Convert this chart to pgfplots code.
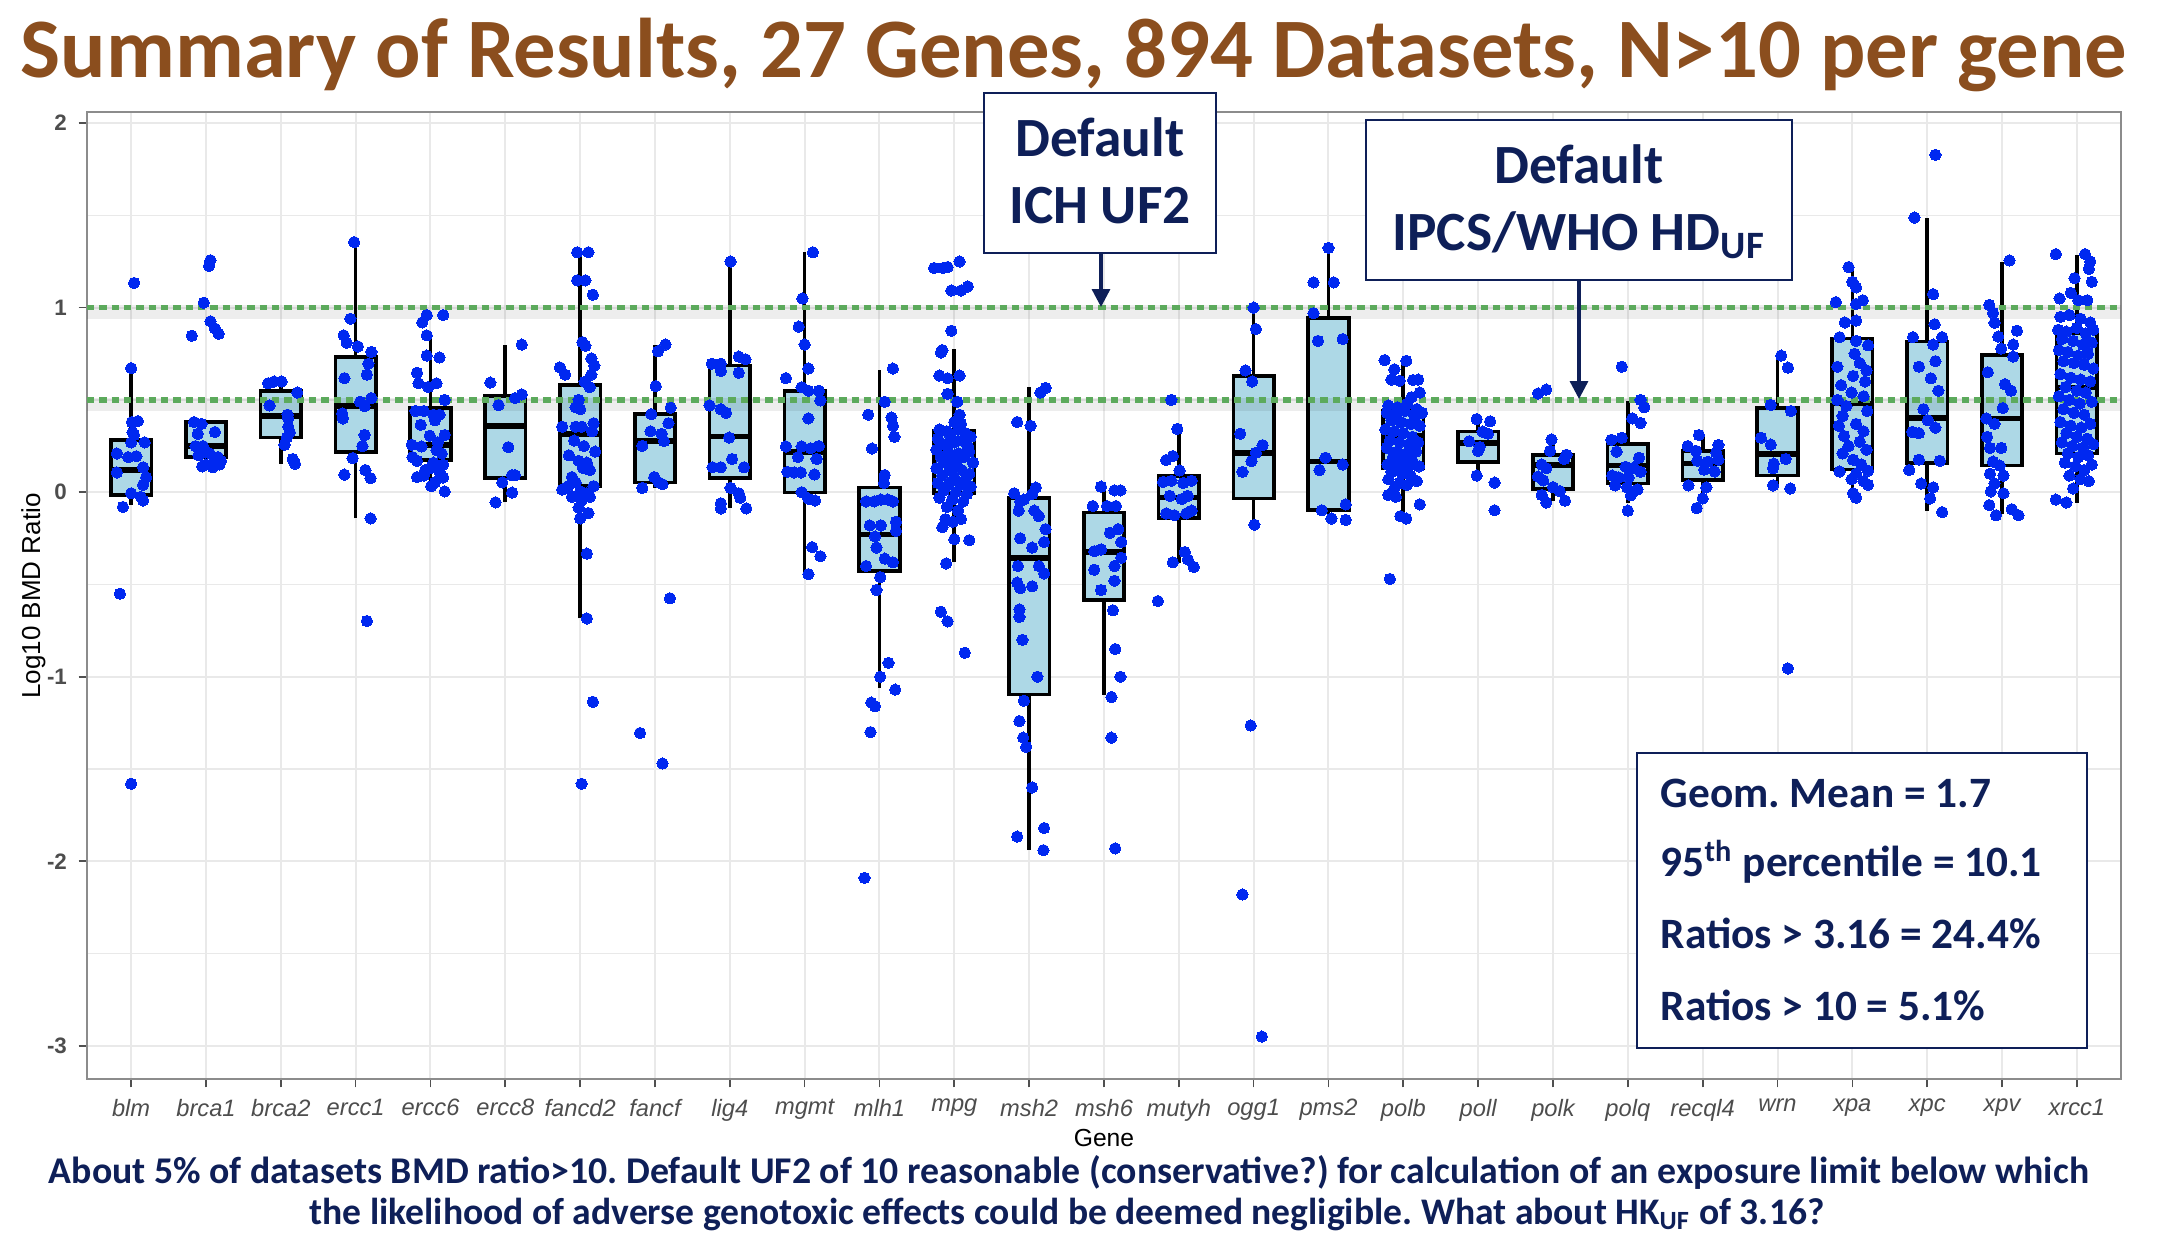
\documentclass[border=0pt]{standalone}
\usepackage{pgfplots}
\pgfplotsset{compat=1.18}
\usetikzlibrary{arrows.meta}
\usepackage{fontspec}
\setmainfont{Liberation Sans}
\newfontfamily\calibri{Carlito}
\frenchspacing
\definecolor{titlebrown}{RGB}{139,78,30}
\definecolor{navy}{RGB}{14,31,88}
\definecolor{boxblue}{RGB}{173,216,230}
\definecolor{ptblue}{RGB}{0,40,240}
\definecolor{dotgreen}{RGB}{92,170,92}
\definecolor{gridc}{RGB}{233,233,233}
\definecolor{labgray}{RGB}{77,77,77}
\definecolor{framegray}{RGB}{140,140,140}
\definecolor{tickgray}{RGB}{80,80,80}
\pgfplotsset{
  gbox/.style={draw=black, fill=boxblue, line width=1.1pt, solid, mark=none, line join=miter},
  gpts/.style={only marks, mark=*, mark size=1.7pt, color=ptblue,
    mark options={draw=ptblue, fill=ptblue, line width=0pt}},
}
\begin{document}
\begin{tikzpicture}
\begin{scope}[x=0.3pt,y=-0.3pt]
\path[use as bounding box] (0,0) rectangle (2184,1238);
\coordinate (LL) at (87,1079);
\node[anchor=base, text=titlebrown, inner sep=0pt] at (1074,77) {\resizebox{631.8pt}{!}{\calibri\bfseries Summary of Results, 27 Genes, 894 Datasets, N>10 per gene}};
\node[anchor=base, text=navy, inner sep=0pt] at (1069,1183) {\resizebox{612pt}{!}{\calibri\bfseries About 5\% of datasets BMD ratio>10. Default UF2 of 10 reasonable (conservative?) for calculation of an exposure limit below which}};
\node[anchor=base, text=navy, inner sep=0pt] at (1067,1224) {\resizebox{454.5pt}{!}{\calibri\bfseries the likelihood of adverse genotoxic effects could be deemed negligible. What about HK\textsubscript{UF} of 3.16?}};
\node[rotate=90, inner sep=0pt, font=\fontsize{7.8}{9}\selectfont] at (33.5,596) {Log10 BMD Ratio};
\node[inner sep=0pt, font=\fontsize{7.4}{9}\selectfont] at (1104,1138) {Gene};
\end{scope}
\begin{axis}[
  at={(LL)}, anchor=south west, scale only axis,
  width=610.2pt, height=290.1pt,
  xmin=0.41, xmax=27.59, ymin=-3.18, ymax=2.06,
  xtick={1,...,27},
  xticklabels={blm,brca1,brca2,ercc1,ercc6,ercc8,fancd2,fancf,lig4,mgmt,mlh1,mpg,msh2,msh6,mutyh,ogg1,pms2,polb,poll,polk,polq,recql4,wrn,xpa,xpc,xpv,xrcc1},
  ytick={-3,-2,-1,0,1,2},
  yticklabels={-3,-2,-1,0,1,2},
  minor ytick={-2.5,-1.5,-0.5,0.5,1.5},
  grid=both,
  major grid style={line width=0.6pt, draw=gridc},
  minor grid style={line width=0.4pt, draw=gridc},
  tick align=outside, tick pos=left,
  major tick length=2.5pt, minor tick length=0pt,
  tick style={draw=tickgray, line width=0.5pt},
  axis line style={draw=framegray, line width=0.6pt},
  /pgf/number format/assume math mode=true,
  xticklabel style={font=\fontsize{7.1}{8}\selectfont\itshape, text=labgray},
  yticklabel style={font=\fontsize{6.7}{8}\selectfont\bfseries, text=labgray},
  axis background/.style={fill=white},
  unbounded coords=jump,
]
% ---- whiskers: lower whisker to upper whisker for each gene ----
\addplot[black, line width=1.1pt, mark=none] coordinates {
(1,-0.068)(1,0.657)(1,nan)
(2,0.135)(2,0.385)(2,nan)
(3,0.154)(3,0.60)(3,nan)
(4,-0.142)(4,1.355)(4,nan)
(5,0.004)(5,0.84)(5,nan)
(6,-0.055)(6,0.80)(6,nan)
(7,-0.684)(7,1.30)(7,nan)
(8,0.023)(8,0.80)(8,nan)
(9,-0.088)(9,1.25)(9,nan)
(10,-0.444)(10,1.30)(10,nan)
(11,-1.06)(11,0.664)(11,nan)
(12,-0.38)(12,0.775)(12,nan)
(13,-1.94)(13,0.57)(13,nan)
(14,-1.10)(14,0.025)(14,nan)
(15,-0.386)(15,0.343)(15,nan)
(16,-0.176)(16,1.0)(16,nan)
(17,-0.15)(17,1.324)(17,nan)
(18,-0.13)(18,0.712)(18,nan)
(19,0.09)(19,0.396)(19,nan)
(20,-0.046)(20,0.29)(20,nan)
(21,-0.06)(21,0.495)(21,nan)
(22,-0.04)(22,0.305)(22,nan)
(23,0.047)(23,0.74)(23,nan)
(24,-0.03)(24,1.22)(24,nan)
(25,-0.103)(25,1.488)(25,nan)
(26,-0.12)(26,1.25)(26,nan)
(27,-0.056)(27,1.284)};
% ---- boxes: lower quartile to upper quartile ----
\addplot[gbox] coordinates {(0.73,-0.016)(1.27,-0.016)(1.27,0.283)(0.73,0.283)} --cycle;
\addplot[gbox] coordinates {(1.73,0.19)(2.27,0.19)(2.27,0.38)(1.73,0.38)} --cycle;
\addplot[gbox] coordinates {(2.73,0.296)(3.27,0.296)(3.27,0.55)(2.73,0.55)} --cycle;
\addplot[gbox] coordinates {(3.73,0.218)(4.27,0.218)(4.27,0.731)(3.73,0.731)} --cycle;
\addplot[gbox] coordinates {(4.73,0.173)(5.27,0.173)(5.27,0.458)(4.73,0.458)} --cycle;
\addplot[gbox] coordinates {(5.73,0.078)(6.27,0.078)(6.27,0.52)(5.73,0.52)} --cycle;
\addplot[gbox] coordinates {(6.73,0.033)(7.27,0.033)(7.27,0.58)(6.73,0.58)} --cycle;
\addplot[gbox] coordinates {(7.73,0.053)(8.27,0.053)(8.27,0.423)(7.73,0.423)} --cycle;
\addplot[gbox] coordinates {(8.73,0.076)(9.27,0.076)(9.27,0.686)(8.73,0.686)} --cycle;
\addplot[gbox] coordinates {(9.73,-0.002)(10.27,-0.002)(10.27,0.55)(9.73,0.55)} --cycle;
\addplot[gbox] coordinates {(10.73,-0.427)(11.27,-0.427)(11.27,0.025)(10.73,0.025)} --cycle;
\addplot[gbox] coordinates {(11.73,-0.005)(12.27,-0.005)(12.27,0.33)(11.73,0.33)} --cycle;
\addplot[gbox] coordinates {(12.73,-1.096)(13.27,-1.096)(13.27,-0.03)(12.73,-0.03)} --cycle;
\addplot[gbox] coordinates {(13.73,-0.583)(14.27,-0.583)(14.27,-0.11)(13.73,-0.11)} --cycle;
\addplot[gbox] coordinates {(14.73,-0.14)(15.27,-0.14)(15.27,0.087)(14.73,0.087)} --cycle;
\addplot[gbox] coordinates {(15.73,-0.035)(16.27,-0.035)(16.27,0.63)(15.73,0.63)} --cycle;
\addplot[gbox] coordinates {(16.73,-0.098)(17.27,-0.098)(17.27,0.944)(16.73,0.944)} --cycle;
\addplot[gbox] coordinates {(17.73,0.13)(18.27,0.13)(18.27,0.442)(17.73,0.442)} --cycle;
\addplot[gbox] coordinates {(18.73,0.162)(19.27,0.162)(19.27,0.328)(18.73,0.328)} --cycle;
\addplot[gbox] coordinates {(19.73,0.017)(20.27,0.017)(20.27,0.203)(19.73,0.203)} --cycle;
\addplot[gbox] coordinates {(20.73,0.047)(21.27,0.047)(21.27,0.26)(20.73,0.26)} --cycle;
\addplot[gbox] coordinates {(21.73,0.065)(22.27,0.065)(22.27,0.224)(21.73,0.224)} --cycle;
\addplot[gbox] coordinates {(22.73,0.09)(23.27,0.09)(23.27,0.455)(22.73,0.455)} --cycle;
\addplot[gbox] coordinates {(23.73,0.123)(24.27,0.123)(24.27,0.832)(23.73,0.832)} --cycle;
\addplot[gbox] coordinates {(24.73,0.159)(25.27,0.159)(25.27,0.817)(24.73,0.817)} --cycle;
\addplot[gbox] coordinates {(25.73,0.144)(26.27,0.144)(26.27,0.742)(25.73,0.742)} --cycle;
\addplot[gbox] coordinates {(26.73,0.209)(27.27,0.209)(27.27,0.864)(26.73,0.864)} --cycle;
% ---- medians ----
\addplot[black, line width=1.7pt, mark=none] coordinates {
(0.73,0.121)(1.27,0.121)(1,nan)
(1.73,0.25)(2.27,0.25)(2,nan)
(2.73,0.413)(3.27,0.413)(3,nan)
(3.73,0.468)(4.27,0.468)(4,nan)
(4.73,0.257)(5.27,0.257)(5,nan)
(5.73,0.359)(6.27,0.359)(6,nan)
(6.73,0.316)(7.27,0.316)(7,nan)
(7.73,0.277)(8.27,0.277)(8,nan)
(8.73,0.302)(9.27,0.302)(9,nan)
(9.73,0.218)(10.27,0.218)(10,nan)
(10.73,-0.23)(11.27,-0.23)(11,nan)
(11.73,0.213)(12.27,0.213)(12,nan)
(12.73,-0.355)(13.27,-0.355)(13,nan)
(13.73,-0.324)(14.27,-0.324)(14,nan)
(14.73,-0.028)(15.27,-0.028)(15,nan)
(15.73,0.214)(16.27,0.214)(16,nan)
(16.73,0.166)(17.27,0.166)(17,nan)
(17.73,0.307)(18.27,0.307)(18,nan)
(18.73,0.266)(19.27,0.266)(19,nan)
(19.73,0.147)(20.27,0.147)(20,nan)
(20.73,0.144)(21.27,0.144)(21,nan)
(21.73,0.155)(22.27,0.155)(22,nan)
(22.73,0.208)(23.27,0.208)(23,nan)
(23.73,0.48)(24.27,0.48)(24,nan)
(24.73,0.402)(25.27,0.402)(25,nan)
(25.73,0.40)(26.27,0.40)(26,nan)
(26.73,0.568)(27.27,0.568)};
% ---- points ----
% blm
\addplot[gpts] coordinates {(1.04,1.134)(1.00,0.672)(1.01,0.38)(1.09,0.385)(1.02,0.325)(1.04,0.31)(1.00,0.27)(1.18,0.27)(0.81,0.21)(0.96,0.19)(1.07,0.195)(1.16,0.135)(0.81,0.107)(1.20,0.08)(1.16,0.04)(1.00,-0.006)(1.13,-0.025)(1.16,-0.045)(0.89,-0.08)(0.85,-0.55)(1.00,-1.58)};
% brca1
\addplot[gpts] coordinates {(2.06,1.257)(2.04,1.226)(1.97,1.027)(1.81,0.848)(2.06,0.926)(2.12,0.887)(2.17,0.858)(1.84,0.38)(1.94,0.37)(1.89,0.316)(2.12,0.326)(1.86,0.25)(1.96,0.25)(1.98,0.22)(2.05,0.21)(2.16,0.19)(2.20,0.17)(2.00,0.15)(2.09,0.135)(2.18,0.15)(1.95,0.14)(2.10,0.16)(1.90,0.20)};
% brca2
\addplot[gpts] coordinates {(2.83,0.59)(2.91,0.60)(3.01,0.60)(3.22,0.54)(2.85,0.47)(3.09,0.42)(3.10,0.40)(3.10,0.355)(3.12,0.325)(3.08,0.296)(3.05,0.257)(3.16,0.18)(3.19,0.154)};
% ercc1
\addplot[gpts] coordinates {(3.98,1.355)(3.93,0.94)(3.84,0.85)(3.88,0.81)(4.03,0.79)(4.21,0.76)(4.17,0.696)(4.15,0.637)(3.85,0.618)(4.21,0.51)(4.06,0.49)(4.12,0.466)(3.82,0.427)(3.83,0.40)(4.12,0.31)(4.09,0.25)(3.96,0.185)(3.85,0.095)(4.13,0.12)(4.20,0.076)(4.20,-0.142)(4.15,-0.698)};
% ercc6
\addplot[gpts] coordinates {(4.95,0.96)(5.17,0.96)(4.89,0.92)(4.95,0.85)(4.95,0.74)(5.12,0.73)(4.82,0.647)(4.84,0.59)(5.08,0.59)(4.97,0.57)(5.19,0.50)(4.80,0.44)(4.91,0.44)(5.04,0.42)(5.12,0.42)(4.87,0.365)(5.06,0.39)(4.99,0.306)(5.19,0.31)(4.75,0.257)(4.88,0.248)(5.08,0.228)(5.15,0.21)(4.76,0.19)(4.82,0.17)(5.04,0.16)(5.17,0.15)(5.00,0.13)(5.12,0.11)(4.82,0.082)(4.91,0.09)(5.06,0.053)(5.17,0.08)(5.01,0.033)(5.19,0.004)(4.93,0.12)(5.10,0.27)};
% ercc8
\addplot[gpts] coordinates {(6.22,0.80)(5.80,0.594)(5.91,0.472)(6.13,0.51)(6.22,0.53)(6.04,0.244)(6.09,0.092)(6.13,0.092)(5.96,0.053)(6.09,-0.002)(5.87,-0.055)};
% fancd2
\addplot[gpts] coordinates {(6.96,1.30)(7.11,1.30)(6.96,1.148)(7.07,1.148)(7.17,1.07)(7.03,0.813)(7.07,0.793)(7.15,0.725)(7.19,0.686)(6.73,0.676)(6.80,0.637)(7.15,0.637)(7.06,0.598)(7.13,0.569)(6.98,0.50)(6.94,0.46)(7.00,0.45)(6.76,0.355)(6.94,0.355)(7.02,0.355)(7.18,0.374)(7.16,0.33)(6.98,0.17)(7.09,0.16)(7.04,0.13)(6.89,0.082)(7.13,0.12)(6.94,0.053)(6.76,0.014)(6.84,0.033)(7.18,0.033)(7.00,0.004)(7.09,-0.006)(6.89,-0.025)(7.02,-0.045)(7.13,-0.025)(6.98,-0.084)(7.11,-0.113)(7.00,-0.142)(7.09,-0.333)(7.09,-0.684)(7.17,-1.136)(7.02,-1.58)(6.85,0.20)(7.20,0.22)(6.92,0.28)(7.05,0.25)};
% fancf
\addplot[gpts] coordinates {(8.14,0.80)(8.04,0.764)(8.01,0.575)(8.21,0.458)(8.18,0.374)(7.95,0.423)(7.94,0.33)(8.09,0.316)(8.12,0.277)(7.83,0.251)(7.99,0.082)(8.05,0.053)(8.10,0.043)(7.83,0.023)(8.20,-0.575)(7.80,-1.305)(8.10,-1.47)};
% lig4
\addplot[gpts] coordinates {(9.01,1.25)(8.76,0.696)(8.88,0.696)(9.12,0.735)(9.21,0.72)(8.88,0.657)(9.12,0.647)(8.73,0.47)(8.88,0.45)(8.95,0.43)(8.99,0.296)(9.03,0.18)(8.77,0.135)(8.88,0.135)(9.19,0.135)(9.01,0.023)(9.12,-0.006)(9.14,-0.03)(8.88,-0.06)(8.88,-0.088)(9.22,-0.088)};
% mgmt
\addplot[gpts] coordinates {(10.11,1.30)(9.97,1.05)(9.92,0.897)(10.00,0.80)(10.05,0.67)(9.75,0.618)(9.96,0.569)(10.05,0.55)(10.19,0.55)(10.21,0.497)(10.05,0.40)(9.75,0.248)(9.96,0.248)(10.08,0.238)(10.19,0.25)(9.91,0.19)(10.16,0.18)(9.77,0.11)(9.86,0.107)(9.95,0.107)(10.13,0.096)(9.96,0.0)(10.05,-0.035)(10.14,-0.045)(10.10,-0.298)(10.21,-0.347)(10.05,-0.444)};
% mlh1
\addplot[gpts] coordinates {(11.18,0.67)(11.07,0.49)(10.85,0.42)(11.16,0.405)(11.18,0.36)(11.20,0.30)(10.90,0.237)(11.07,0.093)(11.06,0.05)(10.82,-0.05)(10.93,-0.05)(11.02,-0.04)(11.11,-0.04)(11.18,-0.05)(10.87,-0.18)(11.02,-0.18)(11.22,-0.16)(10.94,-0.24)(11.22,-0.21)(10.96,-0.30)(11.07,-0.36)(11.18,-0.38)(10.82,-0.40)(11.01,-0.46)(10.96,-0.53)(11.12,-0.925)(11.01,-1.0)(11.21,-1.07)(10.89,-1.14)(10.94,-1.16)(10.88,-1.30)(10.80,-2.09)};
% mpg
\addplot[gpts] coordinates {(11.73,1.215)(11.85,1.215)(11.91,1.22)(12.07,1.25)(11.96,1.093)(12.09,1.093)(12.18,1.115)(11.96,0.875)(11.82,0.757)(11.84,0.77)(11.80,0.632)(11.91,0.617)(12.07,0.632)(11.91,0.533)(12.04,0.49)(12.07,0.42)(12.00,0.38)(12.09,0.37)
(11.80,0.34)(11.90,0.33)(12.05,0.34)(12.15,0.32)(12.22,0.30)(11.78,0.29)(11.95,0.30)(12.10,0.28)(11.85,0.26)(12.00,0.27)(12.18,0.25)(11.76,0.23)(11.92,0.22)(12.06,0.21)(12.20,0.22)(11.82,0.19)(11.98,0.18)(12.12,0.19)(11.88,0.16)(12.03,0.15)(12.25,0.16)(11.76,0.13)(11.94,0.12)(12.10,0.12)(12.20,0.10)(11.84,0.09)(12.00,0.08)(12.15,0.07)(11.78,0.05)(11.92,0.04)(12.08,0.04)(12.22,0.03)(11.86,0.01)(12.02,0.00)(12.17,-0.01)(11.80,-0.03)(11.97,-0.04)(12.12,-0.05)(11.90,-0.08)(12.05,-0.10)
(11.88,-0.146)(11.98,-0.16)(12.09,-0.146)(11.84,-0.19)(12.00,-0.255)(12.20,-0.26)(11.89,-0.386)(11.82,-0.648)(11.91,-0.70)(12.14,-0.87)};
% msh2
\addplot[gpts] coordinates {(13.15,0.54)(13.22,0.565)(12.84,0.38)(13.02,0.36)(13.09,0.025)(13.04,-0.01)(12.93,-0.04)(12.80,-0.006)(12.88,-0.05)(13.07,-0.10)(13.13,-0.13)(13.22,-0.20)(13.20,-0.27)(13.04,-0.30)(13.13,-0.40)(13.20,-0.44)(12.84,-0.49)(12.88,-0.52)(13.04,-0.51)(12.87,-0.635)(12.87,-0.676)(12.91,-0.80)(13.11,-1.0)(12.93,-1.13)(12.87,-1.24)(12.92,-1.33)(12.96,-1.38)(13.04,-1.60)(12.84,-1.866)(13.20,-1.82)(13.19,-1.94)(12.85,-0.40)(12.86,-0.10)(12.88,-0.25)};
% msh6
\addplot[gpts] coordinates {(13.96,0.03)(14.14,0.01)(14.22,0.01)(13.85,-0.075)(14.04,-0.075)(14.16,-0.075)(14.19,-0.2)(14.08,-0.22)(14.23,-0.27)(13.87,-0.32)(13.96,-0.31)(14.23,-0.355)(14.14,-0.40)(13.87,-0.42)(14.14,-0.48)(13.96,-0.53)(14.12,-0.64)(14.15,-0.85)(14.22,-1.0)(14.10,-1.11)(14.10,-1.33)(14.15,-1.93)};
% mutyh
\addplot[gpts] coordinates {(14.90,0.50)(14.98,0.343)(14.83,0.174)(14.92,0.196)(15.01,0.118)(14.79,0.056)(14.90,0.062)(15.06,0.05)(15.17,0.062)(14.88,-0.02)(15.04,-0.037)(15.12,-0.02)(14.83,-0.115)(14.94,-0.125)(15.10,-0.115)(15.17,-0.1)(15.08,-0.324)(14.92,-0.38)(15.12,-0.364)(15.20,-0.405)(14.72,-0.59)};
% ogg1
\addplot[gpts] coordinates {(16.00,1.0)(16.03,0.884)(15.89,0.66)(15.98,0.60)(15.82,0.317)(16.12,0.255)(16.03,0.214)(15.97,0.168)(15.85,0.11)(16.01,-0.176)(15.96,-1.264)(15.85,-2.18)(16.11,-2.95)};
% pms2
\addplot[gpts] coordinates {(17.00,1.324)(16.80,1.137)(17.07,1.137)(16.80,0.97)(16.86,0.82)(17.19,0.83)(16.96,0.187)(16.88,0.12)(17.19,0.15)(17.23,-0.066)(16.91,-0.098)(17.04,-0.143)(17.23,-0.15)};
% polb
\addplot[gpts] coordinates {(17.75,0.716)(18.04,0.712)(17.88,0.666)(17.84,0.61)(17.95,0.604)(18.13,0.608)(18.20,0.61)(18.22,0.54)(18.11,0.515)
(17.80,0.47)(17.92,0.46)(18.05,0.48)(18.18,0.45)(17.78,0.43)(17.90,0.42)(18.02,0.44)(18.15,0.41)(18.25,0.43)(17.84,0.39)(17.97,0.38)(18.10,0.37)(18.22,0.36)(17.76,0.34)(17.88,0.33)(18.00,0.32)(18.12,0.30)(17.82,0.28)(17.95,0.27)(18.08,0.26)(18.20,0.27)(17.78,0.24)(17.92,0.22)(18.04,0.21)(18.17,0.22)(17.86,0.19)(18.00,0.18)(18.12,0.17)(17.79,0.15)(17.93,0.14)(18.06,0.13)(18.21,0.14)(17.84,0.11)(17.98,0.10)(18.10,0.09)(17.80,0.07)(17.95,0.05)(18.05,0.04)(18.18,0.06)(17.88,0.02)
(17.80,-0.015)(17.90,-0.025)(17.96,-0.13)(18.04,-0.143)(18.22,-0.066)(17.82,-0.47)};
% poll
\addplot[gpts] coordinates {(18.98,0.396)(19.16,0.384)(19.06,0.328)(19.13,0.317)(18.88,0.276)(19.02,0.245)(19.00,0.224)(18.98,0.09)(19.22,0.052)(19.22,-0.098)};
% polk
\addplot[gpts] coordinates {(19.80,0.535)(19.91,0.556)(19.98,0.286)(19.96,0.224)(20.18,0.203)(19.85,0.15)(19.91,0.13)(19.80,0.085)(19.87,0.064)(20.00,0.027)(20.09,0.006)(20.16,-0.046)(19.85,-0.015)(19.91,-0.056)(20.15,0.18)};
% polq
\addplot[gpts] coordinates {(20.92,0.68)(21.17,0.50)(21.22,0.46)(21.06,0.40)(21.17,0.375)(20.78,0.284)(20.92,0.295)(20.85,0.22)(21.15,0.187)(20.97,0.138)(21.08,0.133)(20.79,0.09)(20.88,0.08)(21.01,0.08)(21.17,0.11)(20.83,0.037)(20.99,0.026)(21.13,0.015)(21.04,-0.017)(21.00,-0.10)};
% recql4
\addplot[gpts] coordinates {(21.95,0.31)(21.80,0.25)(22.21,0.256)(21.91,0.224)(22.18,0.215)(21.93,0.17)(22.07,0.165)(22.21,0.176)(22.02,0.122)(22.16,0.112)(21.81,0.037)(22.05,0.026)(22.00,-0.034)(21.92,-0.086)};
% wrn
\addplot[gpts] coordinates {(23.05,0.74)(23.14,0.675)(22.91,0.473)(23.18,0.44)(22.78,0.295)(22.91,0.258)(23.11,0.18)(22.95,0.155)(22.94,0.13)(22.94,0.037)(23.17,0.02)(23.14,-0.955)};
% xpa
\addplot[gpts] coordinates {(23.95,1.22)(24.00,1.14)(24.05,1.11)(23.78,1.03)(24.14,1.04)(24.05,1.02)(23.90,0.92)(24.05,0.93)(23.83,0.84)(24.05,0.82)(24.21,0.796)(24.03,0.75)(23.80,0.68)(24.19,0.66)(24.01,0.63)(24.17,0.60)(23.99,0.54)(24.15,0.52)(23.92,0.467)(23.87,0.413)(24.05,0.37)(24.15,0.33)(23.89,0.305)(24.10,0.273)(23.87,0.21)(24.01,0.176)(24.19,0.23)(23.83,0.112)(24.05,0.10)(24.21,0.116)(23.99,0.07)(24.15,0.06)(24.21,0.04)(24.01,-0.006)(24.05,-0.03)(23.80,0.50)(24.20,0.44)(23.85,0.58)(24.10,0.70)(23.95,0.25)(24.12,0.15)(23.82,0.36)};
% xpc
\addplot[gpts] coordinates {(25.11,1.828)(24.83,1.488)(25.08,1.073)(25.10,0.91)(24.81,0.84)(25.20,0.84)(25.08,0.80)(24.89,0.68)(25.11,0.71)(25.05,0.617)(25.01,0.39)(25.11,0.35)(24.80,0.327)(24.89,0.32)(24.89,0.176)(25.17,0.17)(24.76,0.12)(24.92,0.047)(25.08,0.026)(25.04,-0.034)(25.20,-0.108)(24.95,0.45)(25.15,0.55)};
% xpv
\addplot[gpts] coordinates {(26.10,1.256)(25.83,1.015)(25.88,0.972)(26.20,0.875)(25.90,0.918)(25.95,0.843)(26.15,0.80)(26.15,0.735)(25.99,0.778)(25.81,0.65)(26.04,0.585)(26.01,0.456)(25.79,0.40)(25.90,0.37)(25.84,0.24)(25.99,0.24)(25.88,0.166)(25.97,0.144)(25.84,0.10)(26.02,0.09)(25.90,0.047)(25.85,0.004)(26.02,-0.006)(25.83,-0.07)(26.13,-0.092)(25.92,-0.125)(26.22,-0.125)(26.12,0.55)(25.80,0.30)};
% xrcc1
\addplot[gpts] coordinates {(26.72,1.29)(27.11,1.29)(27.18,1.25)(27.16,1.21)(26.97,1.16)(27.20,1.14)(26.92,1.08)(26.77,1.05)(27.02,1.04)(27.14,1.04)
(26.78,0.95)(26.90,0.96)(27.05,0.94)(27.18,0.92)(26.75,0.88)(26.86,0.87)(27.00,0.89)(27.12,0.86)(27.22,0.88)(26.80,0.83)(26.95,0.82)(27.08,0.80)(27.20,0.81)(26.76,0.77)(26.88,0.76)(27.02,0.74)(27.15,0.75)(26.82,0.71)(26.96,0.70)(27.10,0.69)(27.22,0.67)(26.78,0.64)(26.92,0.62)(27.05,0.61)(27.18,0.60)(26.85,0.57)(27.00,0.55)(27.12,0.54)(26.76,0.52)(26.90,0.50)(27.04,0.48)(27.20,0.49)(26.82,0.45)(26.96,0.43)(27.10,0.42)(26.78,0.38)(26.92,0.36)(27.06,0.35)(27.18,0.37)(26.86,0.32)(27.00,0.30)(27.14,0.29)(26.80,0.27)(26.94,0.25)(27.08,0.24)(27.22,0.26)(26.88,0.21)(27.02,0.19)(27.15,0.20)(26.84,0.16)(26.98,0.14)(27.10,0.12)(27.20,0.15)(26.90,0.09)(27.05,0.07)(27.16,0.06)(26.95,0.02)(26.72,-0.04)(26.86,-0.056)};
% ---- reference lines (log10 10 and log10 3.16) ----
\draw[black, opacity=0.07, line width=4pt, yshift=-1.3pt] (axis cs:0.41,1) -- (axis cs:27.59,1);
\draw[black, opacity=0.07, line width=4pt, yshift=-1.3pt] (axis cs:0.41,0.5) -- (axis cs:27.59,0.5);
\draw[dotgreen, line width=1.6pt, dash pattern=on 2.2pt off 1.5pt] (axis cs:0.41,1) -- (axis cs:27.59,1);
\draw[dotgreen, line width=1.6pt, dash pattern=on 2.2pt off 1.5pt] (axis cs:0.41,0.5) -- (axis cs:27.59,0.5);
\end{axis}
\begin{scope}[x=0.3pt,y=-0.3pt]
% box 1
\draw[navy, line width=0.7pt, fill=white] (984,93) rectangle (1216,253);
\node[anchor=base, text=navy, inner sep=0pt, font=\calibri\bfseries\fontsize{16.6}{20}\selectfont] at (1100,156) {Default};
\node[anchor=base, text=navy, inner sep=0pt, font=\calibri\bfseries\fontsize{16.6}{20}\selectfont] at (1100,223) {ICH UF2};
\draw[navy, line width=1pt, -{Triangle[width=5.4pt,length=5.4pt]}] (1101,253) -- (1101,307);
% box 2
\draw[navy, line width=0.7pt, fill=white] (1366,120) rectangle (1792,280);
\node[anchor=base, text=navy, inner sep=0pt, font=\calibri\bfseries\fontsize{16.6}{20}\selectfont] at (1579,183) {Default};
\node[anchor=base, text=navy, inner sep=0pt, font=\calibri\bfseries\fontsize{16.6}{20}\selectfont] at (1579,250) {IPCS/WHO HD\textsubscript{UF}};
\draw[navy, line width=1pt, -{Triangle[width=5.4pt,length=5.4pt]}] (1579,280) -- (1579,399);
% box 3
\draw[navy, line width=0.8pt, fill=white] (1637,753) rectangle (2087,1048);
\node[anchor=base west, text=navy, inner sep=0pt, font=\calibri\bfseries\fontsize{13}{16}\selectfont] at (1660,807) {Geom. Mean = 1.7};
\node[anchor=base west, text=navy, inner sep=0pt, font=\calibri\bfseries\fontsize{13}{16}\selectfont] at (1660,876) {95\textsuperscript{th} percentile = 10.1};
\node[anchor=base west, text=navy, inner sep=0pt, font=\calibri\bfseries\fontsize{13}{16}\selectfont] at (1660,948) {Ratios > 3.16 = 24.4\%};
\node[anchor=base west, text=navy, inner sep=0pt, font=\calibri\bfseries\fontsize{13}{16}\selectfont] at (1660,1020) {Ratios > 10 = 5.1\%};
\end{scope}
\end{tikzpicture}
\end{document}
